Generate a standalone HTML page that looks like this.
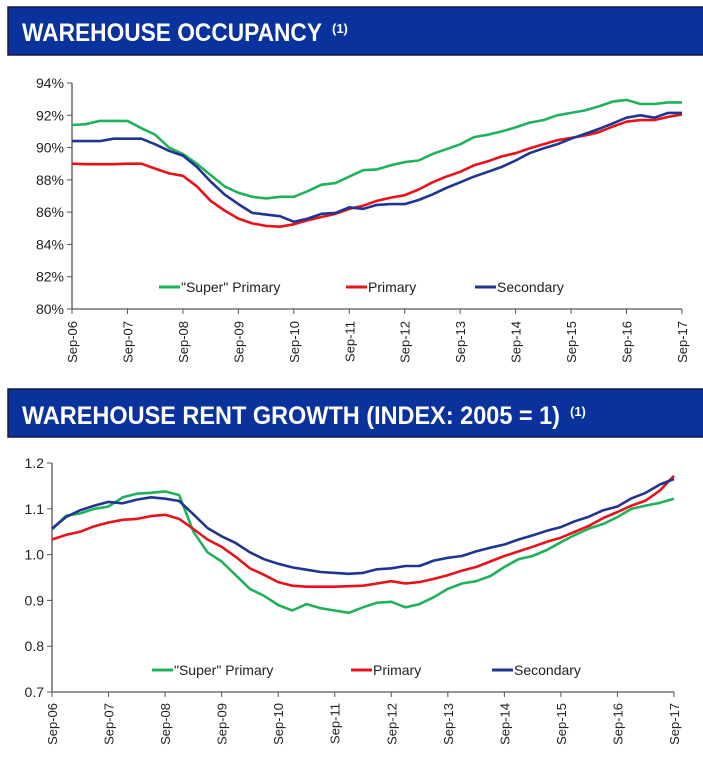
<!DOCTYPE html>
<html><head><meta charset="utf-8"><style>
html,body{margin:0;padding:0;background:#fff;width:703px;height:766px;overflow:hidden}
svg{display:block}
text{font-family:"Liberation Sans",sans-serif}
</style></head><body>
<svg id="s" width="703" height="766" xmlns="http://www.w3.org/2000/svg">
<rect x="8" y="7" width="700" height="48" fill="#0a329c" stroke="#1a1a3a" stroke-width="1.5"/>
<text x="22" y="41" fill="#fff" font-size="25" font-weight="bold" textLength="300" lengthAdjust="spacingAndGlyphs">WAREHOUSE OCCUPANCY</text>
<text x="332" y="33" fill="#fff" font-size="13" font-weight="bold">(1)</text>
<rect x="8" y="389" width="700" height="48" fill="#0a329c" stroke="#1a1a3a" stroke-width="1.5"/>
<text x="22" y="424" fill="#fff" font-size="25" font-weight="bold" textLength="538" lengthAdjust="spacingAndGlyphs">WAREHOUSE RENT GROWTH (INDEX: 2005 = 1)</text>
<text x="570" y="416" fill="#fff" font-size="13" font-weight="bold">(1)</text>
<g id="g"></g>
</svg>
<script>
var g=document.getElementById('g'),h='';
function ax(x0,x1,yTop,yBot,labels,yLabX,xLabY){
  h+='<line x1="'+x0+'" y1="'+yTop+'" x2="'+x0+'" y2="'+yBot+'" stroke="#555" stroke-width="1.3"/>';
  h+='<line x1="'+x0+'" y1="'+yBot+'" x2="'+x1+'" y2="'+yBot+'" stroke="#555" stroke-width="1.3"/>';
  var n=labels.length;
  for(var i=0;i<n;i++){var y=yTop+(yBot-yTop)*i/(n-1);
    h+='<line x1="'+(x0-5)+'" y1="'+y+'" x2="'+x0+'" y2="'+y+'" stroke="#555"/>';
    h+='<text x="'+yLabX+'" y="'+(y+5)+'" font-size="14" text-anchor="end" fill="#222">'+labels[i]+'</text>';}
  for(var k=0;k<=11;k++){var x=x0+(x1-x0)*k/11;
    h+='<line x1="'+x+'" y1="'+yBot+'" x2="'+x+'" y2="'+(yBot+5)+'" stroke="#555"/>';
    var yr=(6+k<10?'0':'')+(6+k);
    h+='<text transform="translate('+(x+5)+','+xLabY+') rotate(-90)" font-size="13" text-anchor="end" fill="#222">Sep-'+yr+'</text>';}
}
function line(d,x0,x1,vTop,vBot,yTop,yBot,c){
  var p=[];for(var i=0;i<d.length;i++){var x=x0+(x1-x0)*i/(d.length-1);var y=yTop+(vTop-d[i])/(vTop-vBot)*(yBot-yTop);p.push(x.toFixed(1)+','+y.toFixed(1));}
  h+='<polyline points="'+p.join(' ')+'" fill="none" stroke="'+c+'" stroke-width="2.6" stroke-linejoin="round"/>';
}
function leg(x,y,c,t){h+='<line x1="'+x+'" y1="'+y+'" x2="'+(x+21)+'" y2="'+y+'" stroke="'+c+'" stroke-width="3"/><text x="'+(x+22)+'" y="'+(y+5)+'" font-size="14" fill="#222">'+t+'</text>';}
var G='#1fb25a',R='#e8121a',B='#1f3590';
ax(72,682,83,309,['94%','92%','90%','88%','86%','84%','82%','80%'],64,321);
var s1=[91.4,91.45,91.65,91.65,91.65,91.2,90.8,90.0,89.6,89.0,88.3,87.6,87.2,86.95,86.85,86.95,86.95,87.3,87.7,87.8,88.2,88.6,88.65,88.9,89.1,89.2,89.6,89.9,90.2,90.65,90.8,91.0,91.25,91.55,91.7,92.0,92.15,92.3,92.55,92.85,92.95,92.7,92.7,92.8,92.8];
var p1=[89.0,88.97,88.97,88.97,89.0,89.0,88.7,88.4,88.25,87.6,86.7,86.1,85.6,85.3,85.15,85.1,85.25,85.5,85.7,85.9,86.2,86.4,86.7,86.9,87.05,87.4,87.85,88.2,88.5,88.9,89.15,89.45,89.65,89.95,90.2,90.45,90.6,90.75,90.95,91.3,91.6,91.7,91.7,91.9,92.05];
var c1=[90.4,90.4,90.4,90.55,90.55,90.55,90.2,89.8,89.5,88.8,87.9,87.1,86.5,85.95,85.85,85.75,85.4,85.6,85.9,85.95,86.3,86.2,86.45,86.5,86.5,86.75,87.1,87.5,87.85,88.2,88.5,88.8,89.2,89.65,89.95,90.2,90.55,90.85,91.15,91.5,91.85,92.0,91.85,92.15,92.15];
line(s1,72,682,94,80,83,309,G);line(p1,72,682,94,80,83,309,R);line(c1,72,682,94,80,83,309,B);
leg(159,287,G,'"Super" Primary');leg(346,287,R,'Primary');leg(475,287,B,'Secondary');
ax(52,674,463,692,['1.2','1.1','1.0','0.9','0.8','0.7'],44,703);
var s2=[1.055,1.085,1.09,1.10,1.105,1.125,1.133,1.135,1.138,1.13,1.05,1.005,0.985,0.955,0.925,0.91,0.89,0.878,0.892,0.883,0.878,0.873,0.885,0.895,0.897,0.885,0.892,0.907,0.925,0.937,0.942,0.953,0.973,0.99,0.997,1.01,1.027,1.043,1.057,1.067,1.082,1.10,1.107,1.113,1.122];
var p2=[1.033,1.043,1.05,1.062,1.07,1.076,1.078,1.084,1.087,1.078,1.056,1.033,1.017,0.995,0.97,0.956,0.94,0.932,0.93,0.93,0.93,0.931,0.932,0.937,0.942,0.937,0.94,0.947,0.955,0.965,0.973,0.985,0.997,1.007,1.017,1.028,1.037,1.05,1.063,1.08,1.093,1.107,1.118,1.14,1.172];
var c2=[1.057,1.082,1.097,1.107,1.115,1.112,1.12,1.125,1.122,1.117,1.088,1.058,1.04,1.025,1.005,0.99,0.98,0.972,0.967,0.962,0.96,0.958,0.96,0.968,0.97,0.975,0.975,0.987,0.993,0.997,1.007,1.015,1.022,1.033,1.042,1.052,1.06,1.073,1.083,1.097,1.105,1.123,1.135,1.153,1.165];
line(s2,52,674,1.2,0.7,463,692,G);line(p2,52,674,1.2,0.7,463,692,R);line(c2,52,674,1.2,0.7,463,692,B);
leg(152,670,G,'"Super" Primary');leg(351,670,R,'Primary');leg(492,670,B,'Secondary');
g.innerHTML=h;
</script>
</body></html>
